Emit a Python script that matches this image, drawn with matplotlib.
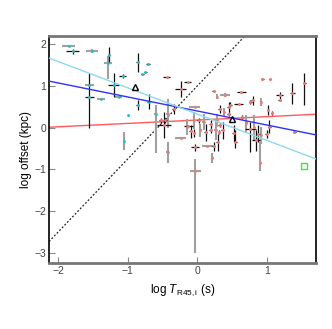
import numpy as np
import matplotlib
matplotlib.use("Agg")
import matplotlib.pyplot as plt

plt.rcParams['font.family'] = ['Liberation Sans', 'DejaVu Sans']
plt.rcParams['mathtext.fontset'] = 'custom'
plt.rcParams['mathtext.rm'] = 'Liberation Sans'
plt.rcParams['mathtext.it'] = 'Liberation Sans:italic'

# short bursts (cyan): x, y, xerr, yerr low, yerr high, bar type (0 black, 1 grey)
c_x = [-1.85, -1.79, -1.51, -1.27, -1.28, -0.86, -1.07, -0.79, -0.75, -0.71,
       -1.20, -1.55, -1.55, -1.38, -1.13, -0.86, -0.99, -1.05, -0.70, -0.60]
c_y = [1.94, 1.82, 1.84, 1.74, 1.55, 1.56, 1.24, 1.27, 1.32, 1.52,
       1.02, 1.02, 0.72, 0.68, 0.74, 0.54, 0.29, -0.32, 0.62, 0.32]
c_xe = [0.10, 0.09, 0.09, 0.02, 0.06, 0.02, 0.05, 0.02, 0.02, 0.03,
        0.08, 0.07, 0.07, 0.06, 0.05, 0.02, 0.01, 0.01, 0.02, 0.02]
c_ylo = [0.02, 0.05, 0.05, 0.18, 0.40, 0.22, 0.05, 0.02, 0.02, 0.02,
         0.28, 0.03, 0.72, 0.02, 0.02, 0.11, 0.02, 0.22, 0.18, 0.94]
c_yhi = [0.02, 0.05, 0.05, 0.18, 0.15, 0.22, 0.05, 0.02, 0.02, 0.02,
         0.28, 0.03, 0.58, 0.02, 0.02, 0.11, 0.02, 0.22, 0.18, 0.23]
c_t = [1, 0, 1, 0, 1, 0, 0, 0, 0, 0, 0, 1, 0, 1, 1, 0, 0, 1, 0, 1]

# long bursts (red)
r_x = [-0.44, -0.14, -0.24, 0.23, 0.28, 0.40, 0.63, 0.93, 1.04, 1.53,
       1.36, 1.18, 1.18, 0.79, 0.76, 0.59, 0.47, 0.45, 0.91, -0.04,
       0.32, -0.34, -0.43, 1.01, 1.07, 0.38, 0.45, 0.64, -0.53, -0.48,
       -0.46, -0.05, 0.02, 0.09, 0.19, 0.28, 0.32, -0.13, -0.24, -0.15,
       -0.10, -0.05, 0.04, 0.12, 0.19, 0.26, 0.31, 0.36, 0.76, 0.81,
       0.87, 0.91, 0.99, 1.39, 0.52, -0.04, 0.14, 0.23, 0.29, -0.43,
       0.21, 0.90, -0.03, 0.54, 1.03, 0.70, 0.84]
r_y = [1.20, 1.08, 0.92, 0.88, 0.74, 0.77, 0.84, 1.16, 1.15, 1.07,
       0.82, 0.77, 0.65, 0.65, 0.61, 0.56, 0.55, 0.49, 0.61, 0.50,
       0.45, 0.45, 0.33, 0.41, 0.34, 0.37, 0.33, 0.25, 0.17, 0.06,
       0.17, 0.17, 0.17, 0.13, 0.09, 0.17, 0.07, 0.04, -0.25, 0.01,
       -0.09, -0.13, -0.07, -0.11, -0.07, -0.05, -0.10, -0.07, -0.03, 0.01,
       -0.15, -0.19, -0.15, -0.10, -0.14, -0.47, -0.43, -0.45, -0.35, -0.59,
       -0.72, -0.85, -1.05, -0.35, 0.02, 0.10, -0.30]
r_xe = [0.05, 0.05, 0.08, 0.02, 0.02, 0.07, 0.06, 0.02, 0.02, 0.02,
        0.04, 0.05, 0.02, 0.02, 0.02, 0.06, 0.02, 0.02, 0.02, 0.08,
        0.02, 0.02, 0.02, 0.02, 0.02, 0.02, 0.02, 0.02, 0.02, 0.10,
        0.02, 0.02, 0.02, 0.02, 0.02, 0.02, 0.02, 0.07, 0.08, 0.02,
        0.02, 0.02, 0.02, 0.02, 0.02, 0.02, 0.02, 0.02, 0.08, 0.02,
        0.02, 0.02, 0.02, 0.02, 0.02, 0.06, 0.08, 0.02, 0.02, 0.02,
        0.02, 0.02, 0.08, 0.02, 0.02, 0.02, 0.06]
r_ylo = [0.02, 0.02, 0.20, 0.02, 0.06, 0.05, 0.02, 0.02, 0.02, 0.54,
         0.25, 0.08, 0.02, 0.10, 0.05, 0.02, 0.05, 0.12, 0.10, 0.02,
         0.10, 0.12, 0.35, 0.12, 0.05, 0.10, 0.05, 0.05, 0.05, 0.30,
         0.05, 0.20, 0.05, 0.20, 0.10, 0.15, 0.05, 0.02, 0.02, 0.20,
         0.15, 0.10, 0.15, 0.20, 0.05, 0.25, 0.05, 0.20, 0.55, 0.30,
         0.20, 0.20, 0.10, 0.02, 0.20, 0.08, 0.02, 0.10, 0.20, 0.25,
         0.12, 0.20, 1.95, 0.15, 0.15, 0.20, 0.25]
r_yhi = [0.02, 0.02, 0.20, 0.02, 0.06, 0.05, 0.02, 0.02, 0.02, 0.24,
         0.25, 0.08, 0.02, 0.10, 0.05, 0.02, 0.05, 0.12, 0.10, 0.02,
         0.10, 0.12, 0.35, 0.12, 0.05, 0.10, 0.05, 0.05, 0.05, 0.30,
         0.05, 0.20, 0.05, 0.20, 0.10, 0.15, 0.05, 0.02, 0.02, 0.20,
         0.15, 0.10, 0.15, 0.20, 0.05, 0.25, 0.05, 0.20, 0.16, 0.30,
         0.20, 0.20, 0.10, 0.02, 0.20, 0.08, 0.02, 0.10, 0.20, 0.25,
         0.12, 0.50, 0.30, 0.28, 0.15, 0.20, 0.25]
r_t = [0, 0, 0, 0, 1, 1, 0, 0, 0, 0,
       0, 0, 0, 0, 0, 0, 0, 0, 1, 1,
       0, 0, 1, 0, 0, 1, 0, 0, 0, 0,
       0, 1, 0, 1, 0, 1, 0, 0, 1, 1,
       0, 0, 1, 0, 0, 1, 0, 0, 0, 1,
       0, 1, 0, 0, 0, 0, 1, 0, 0, 1,
       1, 1, 1, 0, 0, 1, 0]

tri_x = [-0.89, 0.49]
tri_y = [0.98, 0.20]
sq_x = [1.53]
sq_y = [-0.93]

# straight lines: (intercept, slope)
fit_red = (0.18, 0.081)
fit_blue = (0.395, -0.336)
fit_lblue = (0.32, -0.63)
fit_dash = (1.0, 1.75)

fig = plt.figure(figsize=(3.32, 3.29), dpi=100)
ax = fig.add_axes([0.1476, 0.2006, 0.8042, 0.69])

def draw(xs, ys, xe, ylo, yhi, kind, col):
    xs, ys, xe = np.array(xs), np.array(ys), np.array(xe)
    ylo, yhi, kind = np.array(ylo), np.array(yhi), np.array(kind)
    for k, ec, lw in [(1, '#a0a0a0', 1.5), (0, '#111111', 0.9)]:
        m = kind == k
        ax.errorbar(xs[m], ys[m], xerr=xe[m], yerr=[ylo[m], yhi[m]], fmt='none',
                    ecolor=ec, elinewidth=lw, capsize=0, zorder=2)
    ax.plot(xs, ys, 'o', ms=2.0, color=col, mew=0, zorder=3)

xx = np.array([-2.13, 1.70])
ax.plot(xx, fit_dash[0] + fit_dash[1] * xx, color='#222222', ls=(0, (1.5, 1.5)), lw=0.9, zorder=1)
ax.plot(xx, fit_red[0] + fit_red[1] * xx, color='#ff5a5a', lw=1.0, zorder=1)

draw(c_x, c_y, c_xe, c_ylo, c_yhi, c_t, '#20c0c8')
draw(r_x, r_y, r_xe, r_ylo, r_yhi, r_t, '#f07878')

ax.plot(xx, fit_blue[0] + fit_blue[1] * xx, color='#3030ff', lw=1.0, zorder=4)
ax.plot(xx, fit_lblue[0] + fit_lblue[1] * xx, color='#8fd8f0', lw=1.0, zorder=4)

ax.plot(tri_x, tri_y, '^', ms=4.5, mfc='none', mec='black', mew=1.0, zorder=5)
ax.plot(sq_x, sq_y, 's', ms=4, mfc='none', mec='#33ee33', mew=1.0, zorder=5)

ax.set_xlim(-2.13, 1.70)
ax.set_ylim(-3.24, 2.19)
ax.set_xticks([-2, -1, 0, 1])
ax.set_yticks([-3, -2, -1, 0, 1, 2])
ax.set_xticklabels(['\u22122', '\u22121', '0', '1'])
ax.set_yticklabels(['\u22123', '\u22122', '\u22121', '0', '1', '2'])
ax.tick_params(direction='in', length=4, width=0.8, color='#888888',
               labelsize=7.5, labelcolor='#444444', pad=2)
for s in ['top', 'bottom']:
    ax.spines[s].set_color('#777777')
    ax.spines[s].set_linewidth(2)
for s in ['left', 'right']:
    ax.spines[s].set_color('black')
    ax.spines[s].set_linewidth(1.2)

ax.set_xlabel(r'log $\mathit{T}_{\rm R45,i}$ (s)', fontsize=8.5, labelpad=5)
ax.set_ylabel('log offset (kpc)', fontsize=8.5, labelpad=2)

fig.savefig('out.png', dpi=100)
